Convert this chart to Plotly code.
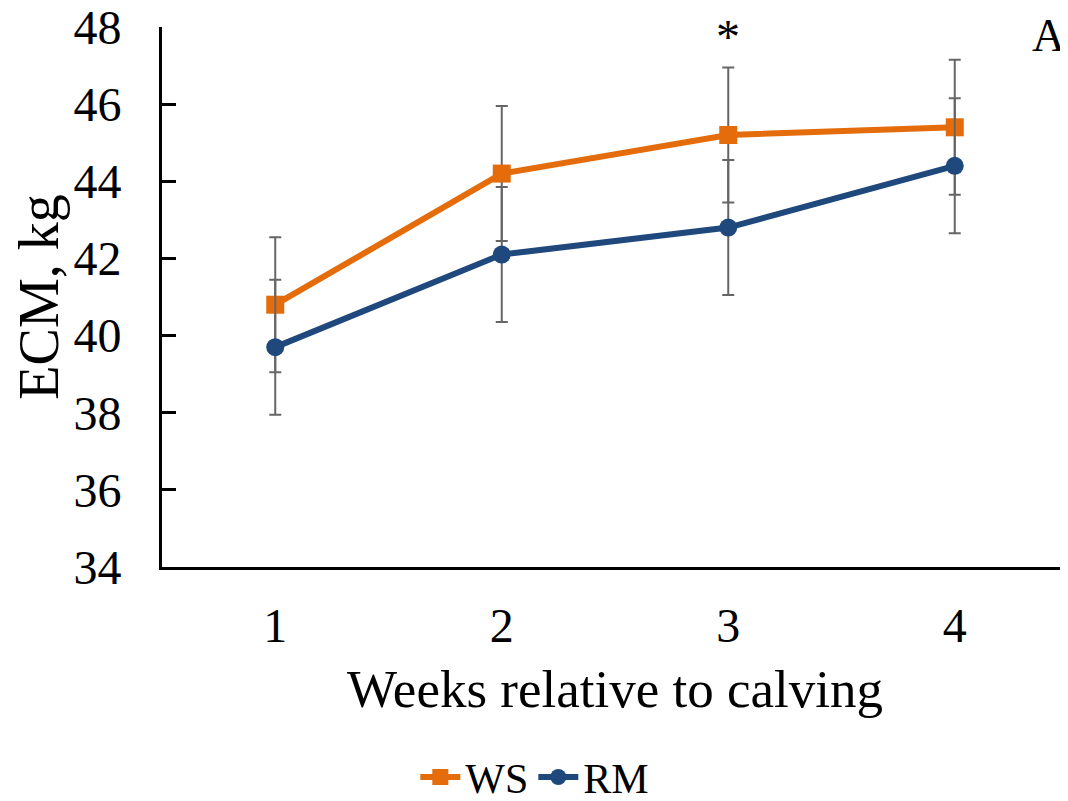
import plotly.graph_objects as go

weeks = [1, 2, 3, 4]
ws_values = [40.8, 44.2, 45.2, 45.4]
rm_values = [39.7, 42.1, 42.8, 44.4]
ws_err = [1.75, 1.75, 1.75, 1.75]
rm_err = [1.75, 1.75, 1.75, 1.75]
y_ticks = [34, 36, 38, 40, 42, 44, 46, 48]

FONT = "Liberation Serif, Times New Roman, serif"
ORANGE = "#E46C0A"
BLUE = "#1F497D"
ERR = "#666666"

fig = go.Figure()
fig.add_trace(go.Scatter(
    x=weeks, y=ws_values, name="WS", mode="lines+markers",
    line=dict(color=ORANGE, width=6),
    marker=dict(symbol="square", size=18, color=ORANGE),
    error_y=dict(type="data", array=ws_err, color=ERR, thickness=2, width=6),
))
fig.add_trace(go.Scatter(
    x=weeks, y=rm_values, name="RM", mode="lines+markers",
    line=dict(color=BLUE, width=6),
    marker=dict(symbol="circle", size=18, color=BLUE),
    error_y=dict(type="data", array=rm_err, color=ERR, thickness=2, width=6),
))

fig.update_layout(
    width=1060, height=793,
    margin=dict(l=154, r=0, t=19, b=234, autoexpand=False),
    paper_bgcolor="white", plot_bgcolor="white",
    font=dict(family=FONT, color="black"),
    showlegend=True,
    legend=dict(orientation="h", xref="container", yref="container",
                x=0.497, xanchor="center", y=0.03, yanchor="middle",
                font=dict(size=42, family=FONT), itemwidth=40,
                traceorder="normal"),
    xaxis=dict(range=[0.5, 4.5], tickvals=weeks, ticktext=[str(w) for w in weeks],
               showgrid=False, zeroline=False, showline=True, linecolor="black",
               linewidth=3, ticks="", tickfont=dict(size=48, family=FONT),
               ticklabelstandoff=14, automargin=False, ticklabeloverflow="allow",
               title=dict(text="Weeks relative to calving", font=dict(size=53, family=FONT),
                          standoff=20)),
    yaxis=dict(range=[34, 48], tickvals=y_ticks, showgrid=False, zeroline=False,
               showline=True, linecolor="black", linewidth=3,
               ticks="inside", ticklen=14, tickwidth=3, tickcolor="black",
               tickfont=dict(size=48, family=FONT), ticklabelstandoff=28,
               automargin=False, ticklabeloverflow="allow",
               title=dict(text="ECM, kg", font=dict(size=56, family=FONT), standoff=8)),
    annotations=[
        dict(x=3, y=1.0, xref="x", yref="paper", text="*", showarrow=False,
             font=dict(size=48, family=FONT), yanchor="top", yshift=19),
        dict(x=1.0, y=1.0, xref="paper", yref="paper", text="A", showarrow=False,
             font=dict(size=46, family=FONT), xanchor="right", yanchor="top",
             xshift=-1, yshift=19),
    ],
)

fig.write_html("out.html")
